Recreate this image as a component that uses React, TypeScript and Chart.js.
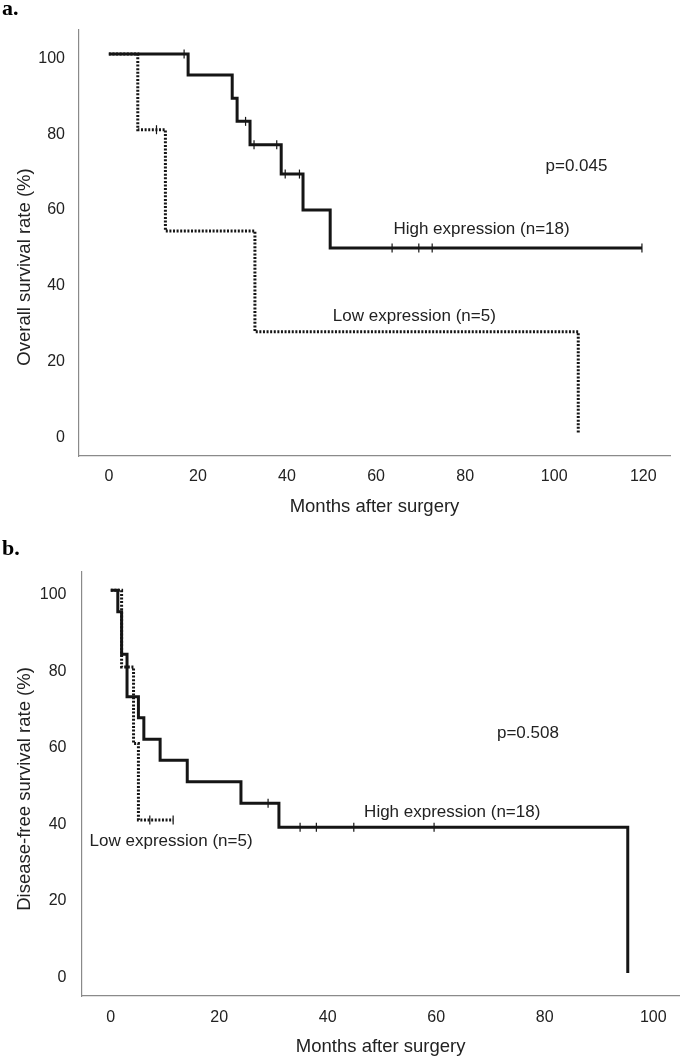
import React, { useEffect, useRef } from "react";
import { Chart, registerables } from "chart.js";

Chart.register(...registerables);

// ---------- Panel a: Overall survival ----------
const osXTicks = [0, 20, 40, 60, 80, 100, 120];
const osYTicks = [0, 20, 40, 60, 80, 100];

const osHighMonths = [0, 17.8, 27.7, 28.8, 31.7, 38.7, 43.6, 49.7, 119.7];
const osHighRate = [100, 94.4, 88.3, 82.2, 76.0, 68.3, 58.8, 48.8, 48.8];
const osHighCensorMonths = [16.9, 30.7, 32.6, 37.7, 39.6, 42.8, 63.6, 69.6, 72.6, 119.7];
const osHighCensorRate = [100, 82.2, 76.0, 76.0, 68.3, 68.3, 48.8, 48.8, 48.8, 48.8];

const osLowMonths = [0, 6.5, 12.7, 32.8, 105.4];
const osLowRate = [100, 80, 53.3, 26.7, 0];
const osLowCensorMonths = [10.7];
const osLowCensorRate = [80];

const osNotes = ["p=0.045", "High expression (n=18)", "Low expression (n=5)"];
const osNoteMonths = [105, 63.9, 50.3];
const osNoteRate = [70.3, 53.6, 30.9];

// ---------- Panel b: Disease-free survival ----------
const dfsXTicks = [0, 20, 40, 60, 80, 100];
const dfsYTicks = [0, 20, 40, 60, 80, 100];

const dfsHighMonths = [0, 1.3, 2.0, 3.0, 5.1, 6.1, 9.1, 14.1, 24.0, 31.0, 95.3];
const dfsHighRate = [100, 94.4, 83.3, 72.2, 66.7, 61.1, 55.6, 50.0, 44.4, 38.1, 0];
const dfsHighCensorMonths = [29.0, 34.9, 37.9, 44.8, 59.6];
const dfsHighCensorRate = [44.4, 38.1, 38.1, 38.1, 38.1];

const dfsLowMonths = [0, 2.0, 4.2, 5.1, 11.5];
const dfsLowRate = [100, 80, 60, 40, 40];
const dfsLowCensorMonths = [7.2, 11.5];
const dfsLowCensorRate = [40, 40];

const dfsNotes = ["p=0.508", "High expression (n=18)", "Low expression (n=5)"];
const dfsNoteMonths = [76.9, 46.7, -3.9];
const dfsNoteRate = [62.7, 42.1, 34.5];

const noteAlign = ["center", "left", "left"];

const INK = "#151515";
const TEXT = "#222222";
const SANS = '"Liberation Sans", Arial, sans-serif';

const zip = (xs: number[], ys: number[]) => xs.map((x, i) => ({ x, y: ys[i] }));

const kmTextPlugin = {
  id: "kmText",
  afterDraw(chart: any, _args: any, opts: any) {
    const { ctx, chartArea, scales } = chart;
    const xs = scales.x;
    const ys = scales.y;
    ctx.save();
    ctx.fillStyle = TEXT;
    ctx.font = `17px ${SANS}`;
    ctx.textBaseline = "middle";
    (opts.notes || []).forEach((t: string, i: number) => {
      ctx.textAlign = opts.align[i];
      ctx.fillText(t, xs.getPixelForValue(opts.nx[i]), ys.getPixelForValue(opts.ny[i]));
    });
    ctx.font = `18.5px ${SANS}`;
    ctx.textAlign = "center";
    ctx.fillText(opts.xTitle, (chartArea.left + chartArea.right) / 2, opts.xTitleY);
    ctx.save();
    ctx.translate(opts.yTitleX, (chartArea.top + chartArea.bottom) / 2 + opts.yTitleShift);
    ctx.rotate(-Math.PI / 2);
    ctx.fillText(opts.yTitle, 0, 0);
    ctx.restore();
    ctx.font = 'bold 22px "Liberation Serif", "Times New Roman", serif';
    ctx.textAlign = "left";
    ctx.textBaseline = "alphabetic";
    ctx.fillStyle = "#000";
    ctx.fillText(opts.panel, 2, opts.panelY);
    ctx.restore();
  },
};

function buildConfig(p: any) {
  return {
    type: "scatter",
    data: {
      datasets: [
        {
          data: zip(p.lowX, p.lowY),
          showLine: true,
          stepped: true,
          borderColor: INK,
          borderWidth: 3,
          borderDash: [2, 1.6],
          borderCapStyle: "butt",
          pointRadius: 0,
          fill: false,
        },
        {
          data: zip(p.lowCX, p.lowCY),
          showLine: false,
          pointStyle: "line",
          rotation: 90,
          pointRadius: 4.5,
          borderWidth: 1.2,
          borderColor: INK,
          backgroundColor: INK,
        },
        {
          data: zip(p.highX, p.highY),
          showLine: true,
          stepped: true,
          borderColor: INK,
          borderWidth: 3,
          pointRadius: 0,
          fill: false,
        },
        {
          data: zip(p.highCX, p.highCY),
          showLine: false,
          pointStyle: "line",
          rotation: 90,
          pointRadius: 4.5,
          borderWidth: 1.2,
          borderColor: INK,
          backgroundColor: INK,
        },
      ],
    },
    options: {
      animation: false,
      responsive: false,
      devicePixelRatio: 1,
      layout: { padding: { top: p.padTop, right: p.padRight, left: 0, bottom: 0 } },
      plugins: {
        legend: { display: false },
        tooltip: { enabled: false },
        kmText: {
          notes: p.notes,
          nx: p.nx,
          ny: p.ny,
          align: noteAlign,
          xTitle: "Months after surgery",
          xTitleY: p.xTitleY,
          yTitle: p.yTitle,
          yTitleX: 25,
          yTitleShift: p.yTitleShift,
          panel: p.panel,
          panelY: p.panelY,
        },
      },
      scales: {
        x: {
          type: "linear",
          min: p.xMin,
          max: p.xMax,
          afterBuildTicks: (s: any) => {
            s.ticks = p.xTicks.map((v: number) => ({ value: v }));
          },
          afterFit: (s: any) => {
            s.height = p.xHeight;
          },
          grid: { display: false, drawTicks: false },
          border: { display: true, color: "#8a8a8a", width: 1.2 },
          ticks: {
            padding: p.xTickPad,
            color: TEXT,
            font: { family: SANS, size: 16 },
            maxRotation: 0,
            autoSkip: false,
            callback: (v: any) => String(v),
          },
        },
        y: {
          type: "linear",
          min: p.yMin,
          max: p.yMax,
          afterBuildTicks: (s: any) => {
            s.ticks = p.yTicks.map((v: number) => ({ value: v }));
          },
          afterFit: (s: any) => {
            s.width = p.yWidth;
          },
          grid: { display: false, drawTicks: false },
          border: { display: true, color: "#8a8a8a", width: 1.2 },
          ticks: {
            padding: p.yTickPad,
            labelOffset: 4.5,
            color: TEXT,
            font: { family: SANS, size: 16 },
            autoSkip: false,
            callback: (v: any) => String(v),
          },
        },
      },
    },
    plugins: [kmTextPlugin],
  };
}

const panelA = {
  lowX: osLowMonths, lowY: osLowRate, lowCX: osLowCensorMonths, lowCY: osLowCensorRate,
  highX: osHighMonths, highY: osHighRate, highCX: osHighCensorMonths, highCY: osHighCensorRate,
  notes: osNotes, nx: osNoteMonths, ny: osNoteRate,
  xTicks: osXTicks, yTicks: osYTicks,
  xMin: -6.7, xMax: 126, yMin: -6.07, yMax: 106.3,
  padTop: 30, padRight: 15, xHeight: 74, yWidth: 79,
  xTickPad: 11, yTickPad: 14,
  xTitleY: 507, yTitle: "Overall survival rate (%)", yTitleShift: 24,
  panel: "a.", panelY: 15,
};

const panelB = {
  lowX: dfsLowMonths, lowY: dfsLowRate, lowCX: dfsLowCensorMonths, lowCY: dfsLowCensorRate,
  highX: dfsHighMonths, highY: dfsHighRate, highCX: dfsHighCensorMonths, highCY: dfsHighCensorRate,
  notes: dfsNotes, nx: dfsNoteMonths, ny: dfsNoteRate,
  xTicks: dfsXTicks, yTicks: dfsYTicks,
  xMin: -5.3, xMax: 104.8, yMin: -6.0, yMax: 104.8,
  padTop: 42, padRight: 4, xHeight: 66, yWidth: 82,
  xTickPad: 12, yTickPad: 15.5,
  xTitleY: 517, yTitle: "Disease-free survival rate (%)", yTitleShift: 5,
  panel: "b.", panelY: 25,
};

function KMPanel({ cfg, top, height }: { cfg: any; top: number; height: number }) {
  const ref = useRef<HTMLCanvasElement | null>(null);
  useEffect(() => {
    if (!ref.current) return;
    const chart = new Chart(ref.current, buildConfig(cfg) as any);
    return () => chart.destroy();
  }, [cfg]);
  return (
    <canvas
      ref={ref}
      width={685}
      height={height}
      style={{ position: "absolute", left: 0, top, width: 685, height, display: "block" }}
    />
  );
}

export default function App() {
  return (
    <div style={{ position: "absolute", left: 0, top: 0, width: 685, height: 1062, background: "#fff" }}>
      <KMPanel cfg={panelA} top={0} height={530} />
      <KMPanel cfg={panelB} top={530} height={532} />
    </div>
  );
}
